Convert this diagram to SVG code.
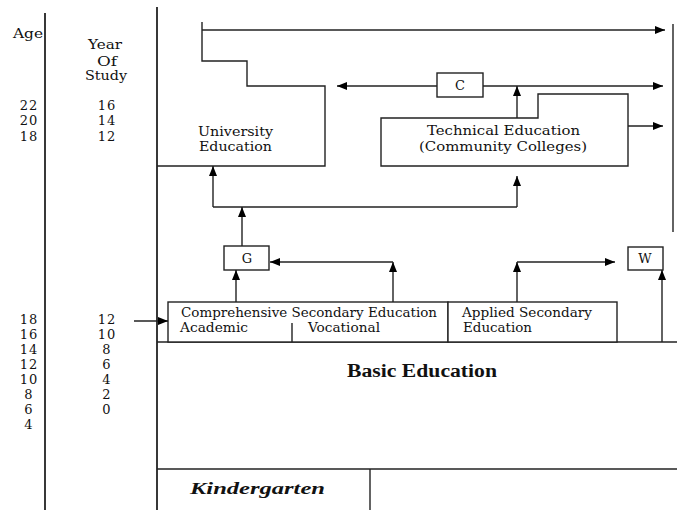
<svg xmlns="http://www.w3.org/2000/svg" width="677" height="510" viewBox="0 0 677 510">
<defs>
<marker id="ah" markerUnits="userSpaceOnUse" markerWidth="10" markerHeight="8" refX="10" refY="4" orient="auto">
<path d="M0,0 L10,4 L0,8 Z" fill="#000"/>
</marker>
<style>
.ln{fill:none;stroke:#222;stroke-width:1.4}
.ax{fill:none;stroke:#222;stroke-width:1.8}
.bx{fill:#fff;stroke:#222;stroke-width:1.4}
.ar{fill:none;stroke:#222;stroke-width:1.4;marker-end:url(#ah)}
text{font-family:"DejaVu Serif","Liberation Serif",serif;font-size:13px;fill:#111}
.n{font-size:13.5px;letter-spacing:1px}
.c{text-anchor:middle}
.b{font-family:"Liberation Serif",serif;font-weight:bold;font-size:18px}
.k{font-family:"Liberation Serif",serif;font-weight:bold;font-style:italic;font-size:17px}
</style>
</defs>
<rect width="677" height="510" fill="#fff"/>
<g id="axes">
<path class="ax" d="M45,13 V510"/>
<path class="ax" d="M157,7 V510"/>
<path class="ln" d="M157,342 H677"/>
<path class="ln" d="M157,469 H677"/>
<path class="ln" d="M370,469 V510"/>
<path class="ln" d="M673,24 V232"/>
</g>
<g id="scale">
<text x="13" y="38" textLength="30" lengthAdjust="spacingAndGlyphs">Age</text>
<text x="88" y="49" textLength="34" lengthAdjust="spacingAndGlyphs">Year</text>
<text x="97" y="66" textLength="20" lengthAdjust="spacingAndGlyphs">Of</text>
<text x="85" y="80" textLength="42" lengthAdjust="spacingAndGlyphs">Study</text>
<g class="n c">
<text x="29" y="110">22</text><text x="107" y="110">16</text>
<text x="29" y="125">20</text><text x="107" y="125">14</text>
<text x="29" y="141">18</text><text x="107" y="141">12</text>
<text x="29" y="324">18</text><text x="107" y="324">12</text>
<text x="29" y="339">16</text><text x="107" y="339">10</text>
<text x="29" y="354">14</text><text x="107" y="354">8</text>
<text x="29" y="369">12</text><text x="107" y="369">6</text>
<text x="29" y="384">10</text><text x="107" y="384">4</text>
<text x="29" y="399">8</text><text x="107" y="399">2</text>
<text x="29" y="414">6</text><text x="107" y="414">0</text>
<text x="29" y="429">4</text>
</g>
</g>
<g id="university">
<path class="ln" d="M202,22 V61 H247 V86 H325 V166 H157"/>
<text x="198" y="136" textLength="75" lengthAdjust="spacingAndGlyphs">University</text>
<text x="199" y="151" textLength="73" lengthAdjust="spacingAndGlyphs">Education</text>
</g>
<g id="technical">
<path class="bx" d="M381,118 H538 V94 H628 V166 H381 Z"/>
<text x="427" y="135" textLength="153" lengthAdjust="spacingAndGlyphs">Technical Education</text>
<text x="419" y="151" textLength="168" lengthAdjust="spacingAndGlyphs">(Community Colleges)</text>
</g>
<g id="c">
<rect class="bx" x="437" y="73" width="46" height="24"/>
<text x="460" y="90" class="c">C</text>
</g>
<g id="g">
<rect class="bx" x="224" y="246" width="45" height="24"/>
<text x="247" y="263" class="c">G</text>
</g>
<g id="w">
<rect class="bx" x="628" y="247" width="35" height="23"/>
<text x="645" y="263" class="c">W</text>
</g>
<g id="comprehensive">
<rect class="bx" x="168" y="302" width="280" height="40"/>
<path class="ln" d="M292,323 V342"/>
<text x="181" y="317" textLength="256" lengthAdjust="spacingAndGlyphs">Comprehensive Secondary Education</text>
<text x="180" y="332" textLength="68" lengthAdjust="spacingAndGlyphs">Academic</text>
<text x="308" y="332" textLength="72" lengthAdjust="spacingAndGlyphs">Vocational</text>
</g>
<g id="applied">
<rect class="bx" x="448" y="302" width="169" height="40"/>
<text x="462" y="317" textLength="130" lengthAdjust="spacingAndGlyphs">Applied Secondary</text>
<text x="463" y="332" textLength="69" lengthAdjust="spacingAndGlyphs">Education</text>
</g>
<g id="basic">
<text x="347" y="377" class="b" textLength="150" lengthAdjust="spacingAndGlyphs">Basic Education</text>
</g>
<g id="kindergarten">
<text x="190" y="494" class="k" textLength="135" lengthAdjust="spacingAndGlyphs">Kindergarten</text>
</g>
<g id="connectors">
<path class="ar" d="M202,30 H665"/>
<path class="ar" d="M437,86 H337"/>
<path class="ar" d="M483,86 H663"/>
<path class="ar" d="M517,118 V86"/>
<path class="ar" d="M628,126 H663"/>
<path class="ln" d="M213,207 H517"/>
<path class="ar" d="M213,207 V166"/>
<path class="ar" d="M517,207 V176"/>
<path class="ar" d="M242,246 V207"/>
<path class="ar" d="M236,302 V270"/>
<path class="ar" d="M393,302 V262"/>
<path class="ar" d="M393,262 H270"/>
<path class="ar" d="M517,302 V262"/>
<path class="ar" d="M517,262 H615"/>
<path class="ar" d="M662,342 V270"/>
<path class="ar" d="M134,321 H168"/>
</g>
</svg>
